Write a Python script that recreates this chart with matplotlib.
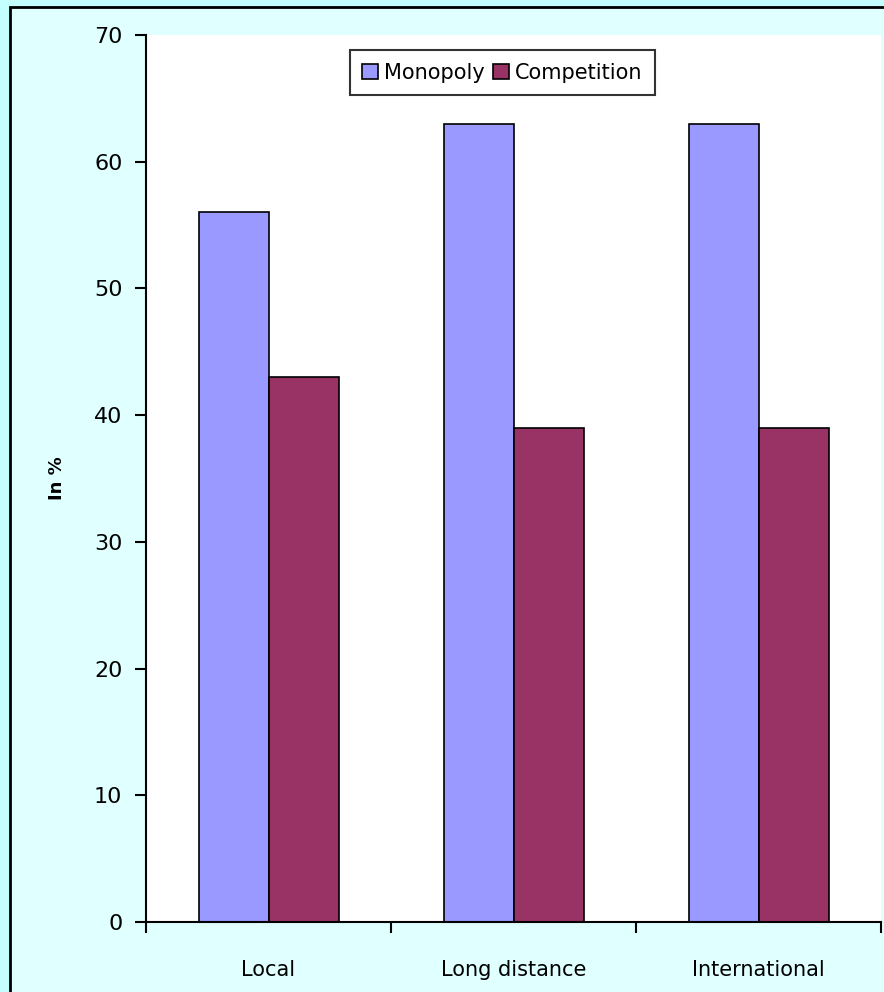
import matplotlib
matplotlib.use("Agg")
import matplotlib.pyplot as plt
from matplotlib.patches import Rectangle
import numpy as np

categories = ["Local", "Long distance", "International"]
monopoly = [56, 63, 63]
competition = [43, 39, 39]
series_names = ["Monopoly", "Competition"]
yticks = [0, 10, 20, 30, 40, 50, 60, 70]

W, H = 884, 992
fig = plt.figure(figsize=(W / 100, H / 100), dpi=100)
fig.patch.set_facecolor("#C4FFFF")

# chart frame
fig.patches.append(Rectangle((10 / W, -0.05), 1.1, (H - 7) / H + 0.05,
                             transform=fig.transFigure, facecolor="#E0FFFF",
                             edgecolor="black", linewidth=2, zorder=-10))

ax = fig.add_axes([146 / W, 1 - 922 / H, (881 - 146) / W, (922 - 35) / H])
ax.set_zorder(5)
ax.set_facecolor("white")

x = np.arange(len(categories))
bw = 1 / 3.5
ax.bar(x - bw / 2, monopoly, bw, color="#9999FF", edgecolor="black",
       linewidth=1.2, label=series_names[0])
ax.bar(x + bw / 2, competition, bw, color="#993366", edgecolor="black",
       linewidth=1.2, label=series_names[1])

ax.set_xlim(-0.5, len(categories) - 0.5)
ax.set_ylim(0, 70)
ax.set_yticks(yticks)
ax.tick_params(axis="y", length=8, width=1.5, pad=9, labelsize=16,
               direction="out")
ax.set_xticks(x)
ax.set_xticklabels(categories)
ax.tick_params(axis="x", which="major", length=0, pad=27, labelsize=15)
ax.set_xticks(np.arange(len(categories) + 1) - 0.5, minor=True)
ax.tick_params(axis="x", which="minor", length=8, width=1.5, direction="out")

for s in ["top", "right"]:
    ax.spines[s].set_visible(False)
for s in ["left", "bottom"]:
    ax.spines[s].set_linewidth(1.5)

ax.set_ylabel("In %", fontsize=13, fontweight="bold", labelpad=20)

leg = ax.legend(loc="upper center", bbox_to_anchor=(0.485, 0.983), ncol=2,
                fontsize=15, frameon=True, fancybox=False, handlelength=0.75,
                handleheight=0.75, handletextpad=0.3, columnspacing=0.4,
                borderpad=0.6, borderaxespad=0)
leg.get_frame().set_edgecolor("black")
leg.get_frame().set_linewidth(1.5)

fig.savefig("out.png", dpi=100, facecolor=fig.get_facecolor())
